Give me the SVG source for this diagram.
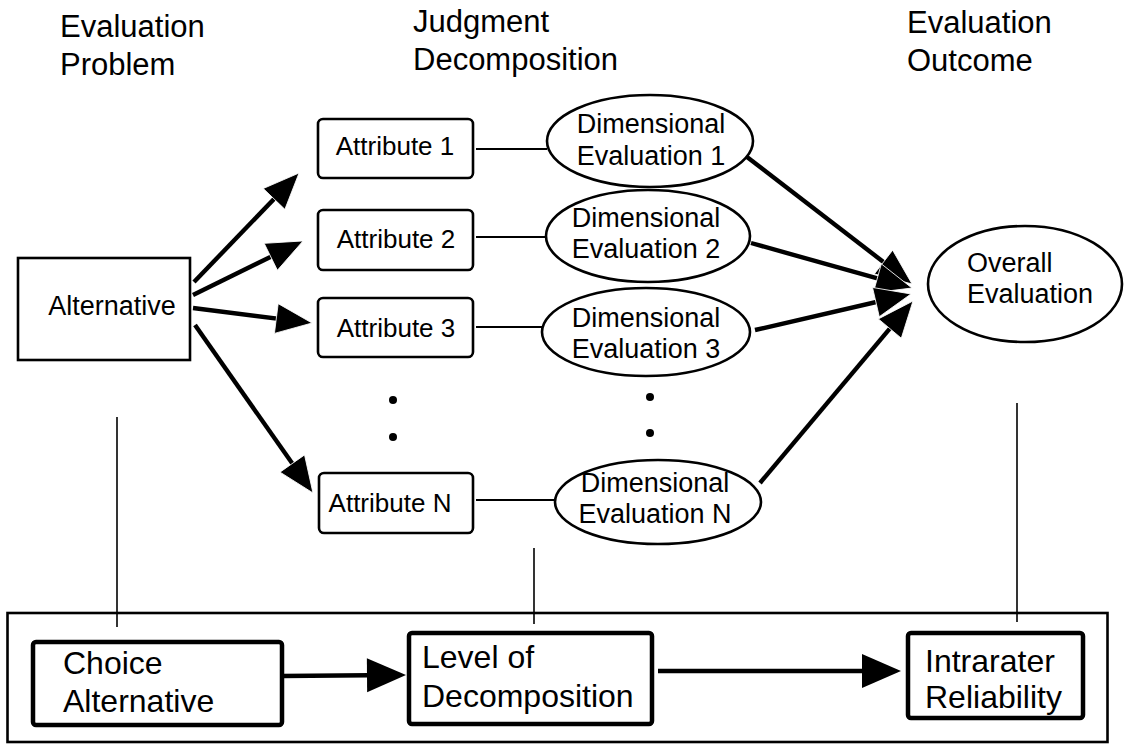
<svg xmlns="http://www.w3.org/2000/svg" width="1124" height="744" viewBox="0 0 1124 744">
  <style>
    text { font-family: "Liberation Sans", Arial, Helvetica, sans-serif; fill: #000; }
    .head { font-size: 31px; }
    .lbl { font-size: 26px; }
    .elbl { font-size: 27px; }
    .blbl { font-size: 32px; }
    .box { fill: #fff; stroke: #000; stroke-width: 2.6; }
    .bold-box { fill: #fff; stroke: #000; stroke-width: 4.5; }
    .ell { fill: #fff; stroke: #000; stroke-width: 2.6; }
    .arrow { stroke: #000; stroke-width: 4.4; fill: none; marker-end: url(#head); }
    .big-arrow { stroke: #000; stroke-width: 4.5; fill: none; marker-end: url(#bighead); }
    .link { stroke: #000; stroke-width: 2.2; fill: none; }
    .thin { stroke: #000; stroke-width: 1.6; fill: none; }
  </style>
  <defs>
    <marker id="head" markerUnits="userSpaceOnUse" markerWidth="38" markerHeight="32" refX="27" refY="15" orient="auto" overflow="visible">
      <path d="M0,0 L36,15 L0,30 Z" fill="#000" stroke="#fff" stroke-width="0.8"/>
    </marker>
    <marker id="bighead" markerUnits="userSpaceOnUse" markerWidth="42" markerHeight="36" refX="31" refY="17" orient="auto" overflow="visible">
      <path d="M0,0 L39,17 L0,34 Z" fill="#000"/>
    </marker>
  </defs>

  <rect width="1124" height="744" fill="#fff"/>

  <!-- column headings -->
  <g id="headings">
    <text class="head" x="60" y="37">Evaluation</text>
    <text class="head" x="60" y="75">Problem</text>
    <text class="head" x="413" y="32">Judgment</text>
    <text class="head" x="413" y="70">Decomposition</text>
    <text class="head" x="907" y="33">Evaluation</text>
    <text class="head" x="907" y="71">Outcome</text>
  </g>

  <!-- connectors -->
  <g id="connectors">
    <!-- alternative to attributes -->
    <line class="arrow" x1="194" y1="282" x2="292.8" y2="179.5"/>
    <line class="arrow" x1="193" y1="295" x2="295" y2="244.9"/>
    <line class="arrow" x1="193" y1="308" x2="303.1" y2="321.9"/>
    <line class="arrow" x1="195" y1="325" x2="307.8" y2="485.6"/>
    <!-- attributes to dimensional evaluations -->
    <line class="link" x1="476" y1="149" x2="547" y2="149"/>
    <line class="link" x1="476" y1="237" x2="546" y2="237"/>
    <line class="link" x1="476" y1="327" x2="542" y2="327"/>
    <line class="link" x1="476" y1="500" x2="555" y2="500"/>
    <!-- dimensional evaluations to overall -->
    <line class="arrow" x1="747" y1="157" x2="904.9" y2="278.5"/>
    <line class="arrow" x1="751" y1="243" x2="903.3" y2="285.6"/>
    <line class="arrow" x1="755" y1="330" x2="902.2" y2="296"/>
    <line class="arrow" x1="760" y1="483" x2="907.2" y2="307.9"/>
    <!-- ties from the upper model to the lower panel -->
    <line class="thin" x1="117" y1="417" x2="117" y2="627"/>
    <line class="thin" x1="534" y1="548" x2="534" y2="624"/>
    <line class="thin" x1="1017" y1="403" x2="1017" y2="622"/>
    <!-- lower panel flow -->
    <line class="big-arrow" x1="282" y1="676" x2="398" y2="675"/>
    <line class="big-arrow" x1="658" y1="671" x2="893" y2="671"/>
  </g>

  <g id="alternative">
    <rect class="box" x="18" y="258" width="172" height="102"/>
    <text class="elbl" x="112" y="315" text-anchor="middle">Alternative</text>
  </g>

  <g id="attribute-1">
    <rect class="box" x="318" y="119" width="155" height="59" rx="5"/>
    <text class="lbl" x="395" y="155" text-anchor="middle">Attribute 1</text>
  </g>
  <g id="attribute-2">
    <rect class="box" x="318" y="210" width="155" height="60" rx="5"/>
    <text class="lbl" x="396" y="248" text-anchor="middle">Attribute 2</text>
  </g>
  <g id="attribute-3">
    <rect class="box" x="318" y="298" width="155" height="59" rx="5"/>
    <text class="lbl" x="396" y="337" text-anchor="middle">Attribute 3</text>
  </g>
  <g id="attribute-dots">
    <circle cx="393" cy="400" r="4"/>
    <circle cx="393" cy="437" r="4"/>
  </g>
  <g id="attribute-n">
    <rect class="box" x="319" y="473" width="154" height="60" rx="5"/>
    <text class="lbl" x="390" y="512" text-anchor="middle">Attribute N</text>
  </g>

  <g id="dimensional-1">
    <ellipse class="ell" cx="650" cy="141" rx="103" ry="46"/>
    <text class="elbl" x="651" y="133" text-anchor="middle">Dimensional</text>
    <text class="elbl" x="651" y="165" text-anchor="middle">Evaluation 1</text>
  </g>
  <g id="dimensional-2">
    <ellipse class="ell" cx="648" cy="236" rx="102" ry="46"/>
    <text class="elbl" x="646" y="227" text-anchor="middle">Dimensional</text>
    <text class="elbl" x="646" y="258" text-anchor="middle">Evaluation 2</text>
  </g>
  <g id="dimensional-3">
    <ellipse class="ell" cx="646" cy="332" rx="104" ry="44"/>
    <text class="elbl" x="646" y="327" text-anchor="middle">Dimensional</text>
    <text class="elbl" x="646" y="358" text-anchor="middle">Evaluation 3</text>
  </g>
  <g id="dimensional-dots">
    <circle cx="650" cy="397" r="4"/>
    <circle cx="650" cy="433" r="4"/>
  </g>
  <g id="dimensional-n">
    <ellipse class="ell" cx="658" cy="502" rx="103" ry="42"/>
    <text class="elbl" x="655" y="492" text-anchor="middle">Dimensional</text>
    <text class="elbl" x="655" y="523" text-anchor="middle">Evaluation N</text>
  </g>

  <g id="overall">
    <ellipse class="ell" cx="1025" cy="284" rx="97" ry="58"/>
    <text class="elbl" x="967" y="272">Overall</text>
    <text class="elbl" x="967" y="303">Evaluation</text>
  </g>

  <!-- lower panel -->
  <g id="panel">
    <rect x="7.5" y="613" width="1100" height="129" fill="none" stroke="#000" stroke-width="2.6"/>
  </g>
  <g id="choice-alternative">
    <rect class="bold-box" x="33" y="642" width="249" height="83" rx="3"/>
    <text class="blbl" x="63" y="674">Choice</text>
    <text class="blbl" x="63" y="712">Alternative</text>
  </g>
  <g id="level-of-decomposition">
    <rect class="bold-box" x="409" y="633" width="243" height="91" rx="3"/>
    <text class="blbl" x="422" y="668">Level of</text>
    <text class="blbl" x="422" y="707">Decomposition</text>
  </g>
  <g id="intrarater-reliability">
    <rect class="bold-box" x="908" y="633" width="175" height="85" rx="3"/>
    <text class="blbl" x="925" y="672">Intrarater</text>
    <text class="blbl" x="925" y="708">Reliability</text>
  </g>
</svg>
